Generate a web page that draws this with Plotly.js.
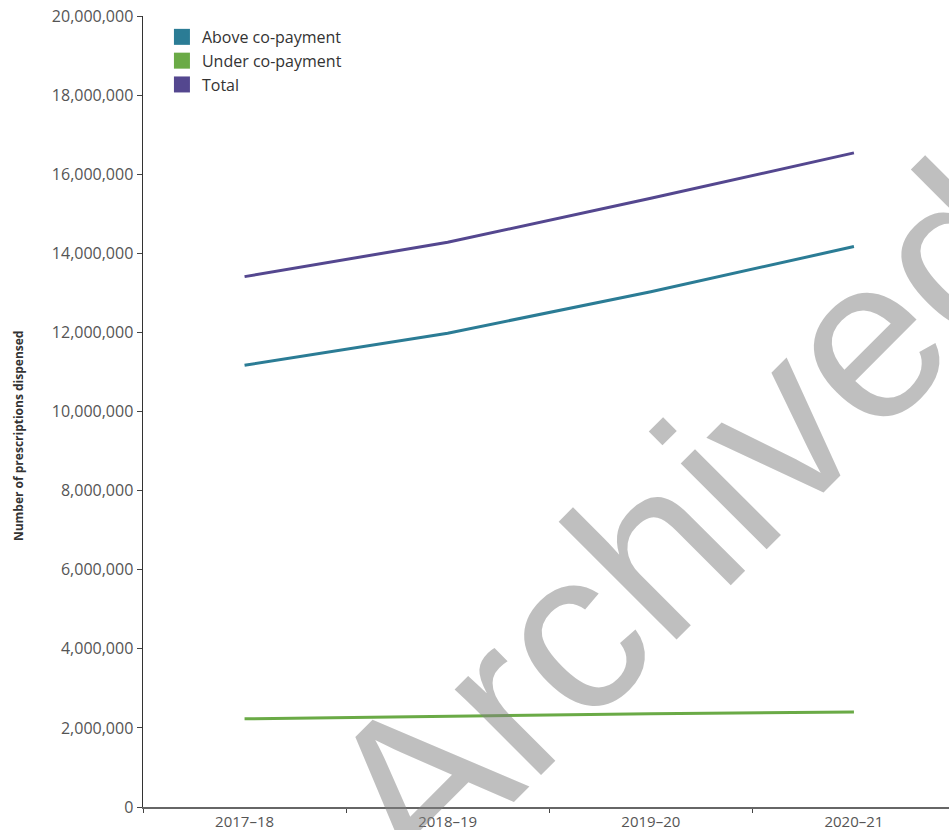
<!DOCTYPE html>
<html>
<head>
<meta charset="utf-8">
<script src="https://cdn.plot.ly/plotly-3.0.1.min.js"></script>
<style>
html,body{margin:0;padding:0;background:#fff;}
#chart{width:949px;height:830px;}
</style>
</head>
<body>
<div id="chart"></div>
<script>
// Data
const years = ["2017\u201318", "2018\u201319", "2019\u201320", "2020\u201321"];
const aboveCoPayment = [11170000, 11980000, 13030000, 14170000];
const underCoPayment = [2230000, 2300000, 2360000, 2400000];
const total = [13410000, 14280000, 15390000, 16540000];
const seriesNames = ["Above co-payment", "Under co-payment", "Total"];
const seriesColors = ["#2b7c95", "#6aaa46", "#54478f"];
const yTickVals = [0, 2000000, 4000000, 6000000, 8000000, 10000000, 12000000, 14000000, 16000000, 18000000, 20000000];
const yTitle = "Number of prescriptions dispensed";
const watermark = "Archived";

const seriesValues = [aboveCoPayment, underCoPayment, total];

const traces = [];
seriesValues.forEach((vals, i) => {
  traces.push({
    type: "scatter", mode: "lines", x: years, y: vals,
    name: seriesNames[i], showlegend: false,
    line: {color: seriesColors[i], width: 3},
    hoverinfo: "skip"
  });
});
// legend entries with square swatches
seriesNames.forEach((n, i) => {
  traces.push({
    type: "scatter", mode: "markers", x: [null], y: [null],
    name: n, showlegend: true,
    marker: {symbol: "square", size: 16, color: seriesColors[i]}
  });
});

const layout = {
  width: 949, height: 830,
  margin: {l: 143, r: 0, t: 16, b: 23, pad: 0},
  paper_bgcolor: "#fff", plot_bgcolor: "#fff",
  font: {family: "Open Sans, sans-serif", size: 16, color: "#555"},
  showlegend: true,
  legend: {
    x: 0.0235, xanchor: "left", y: 0.995, yanchor: "top",
    bgcolor: "rgba(0,0,0,0)", font: {size: 16, color: "#333"},
    itemclick: false, itemdoubleclick: false, tracegroupgap: 0
  },
  xaxis: {
    type: "category", categoryorder: "array", categoryarray: years,
    range: [-0.5, 3.468], fixedrange: true,
    showgrid: false, zeroline: false,
    showline: true, linecolor: "#666", linewidth: 1.5,
    ticks: "outside", tickson: "boundaries", ticklen: 4, tickcolor: "#444", tickwidth: 1,
    tickfont: {size: 15, color: "#555"}
  },
  yaxis: {
    range: [0, 20000000], fixedrange: true,
    tickvals: yTickVals, tickformat: ",d",
    showgrid: false, zeroline: false,
    showline: true, linecolor: "#333", linewidth: 1.5,
    ticks: "outside", ticklen: 5, tickcolor: "#444", tickwidth: 1,
    tickfont: {size: 16, color: "#555"}
  },
  annotations: [
    {
      text: "<b>" + yTitle + "</b>", xref: "paper", yref: "paper", x: -0.155, y: 0.469,
      xanchor: "center", yanchor: "middle", showarrow: false, textangle: -90,
      font: {family: "Open Sans, sans-serif", size: 12, color: "#333"}
    },
    {
      text: watermark, xref: "paper", yref: "paper", x: 0.6675, y: 0.360,
      xanchor: "center", yanchor: "middle", showarrow: false, textangle: -45,
      font: {family: "Liberation Sans, Arial, sans-serif", size: 230, color: "rgba(128,128,128,0.5)"}
    }
  ],
  hovermode: false
};

Plotly.newPlot("chart", traces, layout, {displayModeBar: false, staticPlot: true});
</script>
</body>
</html>
